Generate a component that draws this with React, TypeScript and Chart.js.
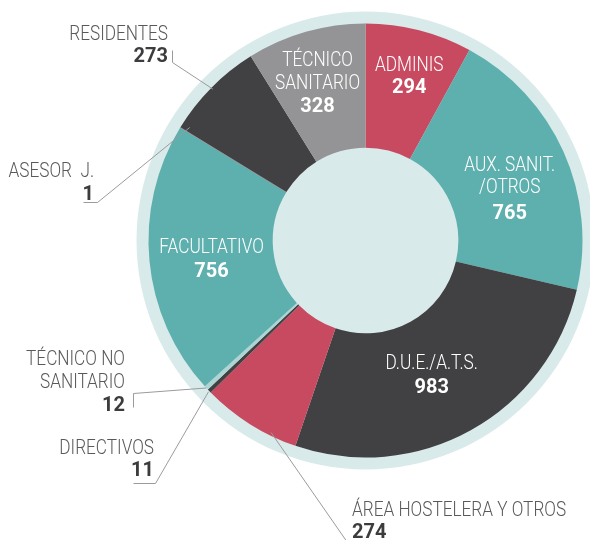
import { useEffect, useRef } from "react";
import { Chart, registerables } from "chart.js";

Chart.register(...registerables);

// ---- data ----
const categories = [
  "ADMINIS",
  "AUX. SANIT./OTROS",
  "D.U.E./A.T.S.",
  "ÁREA HOSTELERA Y OTROS",
  "DIRECTIVOS",
  "TÉCNICO NO SANITARIO",
  "FACULTATIVO",
  "ASESOR J.",
  "RESIDENTES",
  "TÉCNICO SANITARIO",
];
const values = [294, 765, 983, 274, 11, 12, 756, 1, 273, 328];
const labelLines = [
  ["ADMINIS"],
  ["AUX. SANIT.", "/OTROS"],
  ["D.U.E./A.T.S."],
  ["ÁREA HOSTELERA Y OTROS"],
  ["DIRECTIVOS"],
  ["TÉCNICO NO", "SANITARIO"],
  ["FACULTATIVO"],
  ["ASESOR  J."],
  ["RESIDENTES"],
  ["TÉCNICO", "SANITARIO"],
];

// ---- styles ----
const RED = "#c84a60";
const TEAL = "#5eb0af";
const DARK = "#414143";
const GRAY = "#949395";
const LIGHT = "#aed4d4";
const RING = "#d9eaea";
const sliceColors = [RED, TEAL, DARK, RED, DARK, LIGHT, TEAL, RED, DARK, GRAY];

const NAME_FONT = "300 20px Roboto";
const NUM_FONT = "700 20px Roboto";
const SX = 0.86; // horizontal condensing of name text
const CAP = 7.1; // half cap height offset

// inside label layout: f = radial fraction, da = angle nudge (deg), offsets of lines
const inside: Record<number, { f: number; da: number; dy: number[] }> = {
  0: { f: 0.63, da: 0.5, dy: [-11, 11] },
  1: { f: 0.49, da: 4, dy: [-24, -2, 24] },
  2: { f: 0.45, da: 2.6, dy: [-12, 12] },
  6: { f: 0.5, da: -1, dy: [-12, 12] },
  9: { f: 0.59, da: -0.8, dy: [-23, 0, 23] },
};

// outside label layout
type Out = {
  align: "left" | "right";
  tx: number;
  ty: number[];
  path: [number, number][];
  da: number;
  dr: number;
};
const outside: Record<number, Out> = {
  8: { align: "right", tx: 168, ty: [33, 55], path: [[172, 50], [172, 62]], da: 0, dr: -2 },
  7: { align: "right", tx: 94, ty: [170, 193], path: [[83, 202], [97, 202]], da: 1.3, dr: -8 },
  5: { align: "right", tx: 125, ty: [358, 381, 404], path: [[133, 407], [133, 393]], da: 0, dr: 0 },
  4: { align: "right", tx: 154, ty: [447, 469], path: [[133, 483], [155, 483]], da: 0, dr: 1 },
  3: { align: "left", tx: 352, ty: [509, 531], path: [[347, 542]], da: -6, dr: -3 },
};

function drawText(
  ctx: CanvasRenderingContext2D,
  text: string,
  x: number,
  y: number,
  align: CanvasTextAlign,
  font: string,
  color: string,
  sx: number
) {
  ctx.save();
  ctx.translate(x, y + CAP);
  ctx.scale(sx, 1);
  ctx.font = font;
  ctx.fillStyle = color;
  ctx.textAlign = align;
  ctx.textBaseline = "alphabetic";
  ctx.fillText(text, 0, 0);
  ctx.restore();
}

const ringPlugin = {
  id: "ringBg",
  beforeDatasetsDraw(chart: any) {
    const arc = chart.getDatasetMeta(0).data[0];
    if (!arc) return;
    const { x, y, outerRadius } = arc.getProps(["x", "y", "outerRadius"], true);
    const ctx = chart.ctx as CanvasRenderingContext2D;
    ctx.save();
    ctx.beginPath();
    ctx.arc(x, y, outerRadius + 12, 0, Math.PI * 2);
    ctx.fillStyle = RING;
    ctx.fill();
    ctx.restore();
  },
};

const labelPlugin = {
  id: "sliceLabels",
  afterDatasetsDraw(chart: any) {
    const ctx = chart.ctx as CanvasRenderingContext2D;
    const arcs = chart.getDatasetMeta(0).data;
    arcs.forEach((arc: any, i: number) => {
      const p = arc.getProps(
        ["x", "y", "startAngle", "endAngle", "innerRadius", "outerRadius"],
        true
      );
      const mid = (p.startAngle + p.endAngle) / 2;
      const num = String(values[i]);
      const ins = inside[i];
      if (ins) {
        const a = mid + (ins.da * Math.PI) / 180;
        const r = p.innerRadius + ins.f * (p.outerRadius - p.innerRadius);
        const cx = p.x + r * Math.cos(a);
        const cy = p.y + r * Math.sin(a);
        const lines = labelLines[i];
        lines.forEach((t, k) =>
          drawText(ctx, t, cx, cy + ins.dy[k], "center", NAME_FONT, "#ffffff", SX)
        );
        drawText(ctx, num, cx, cy + ins.dy[lines.length], "center", NUM_FONT, "#ffffff", 1);
        return;
      }
      const o = outside[i];
      if (o) {
        const a = mid + (o.da * Math.PI) / 180;
        const r = p.outerRadius + o.dr;
        const ax = p.x + r * Math.cos(a);
        const ay = p.y + r * Math.sin(a);
        ctx.save();
        ctx.strokeStyle = "#9b9b9b";
        ctx.lineWidth = 1;
        ctx.beginPath();
        o.path.forEach(([px, py], k) => {
          if (k === 0) ctx.moveTo(px + 0.5, py + 0.5);
          else ctx.lineTo(px + 0.5, py + 0.5);
        });
        ctx.lineTo(ax, ay);
        ctx.stroke();
        ctx.restore();
        const lines = labelLines[i];
        lines.forEach((t, k) =>
          drawText(ctx, t, o.tx, o.ty[k], o.align, NAME_FONT, "#58595b", SX)
        );
        drawText(ctx, num, o.tx, o.ty[lines.length], o.align, NUM_FONT, "#3c3c3e", 1);
      }
    });
  },
};

export default function App() {
  const ref = useRef<HTMLCanvasElement | null>(null);
  useEffect(() => {
    document.body.style.margin = "0";
    const canvas = ref.current;
    if (!canvas) return;
    const chart = new Chart(canvas, {
      type: "doughnut",
      data: {
        labels: categories,
        datasets: [
          {
            data: values,
            backgroundColor: sliceColors,
            borderWidth: 0,
          },
        ],
      },
      options: {
        animation: false,
        responsive: true,
        maintainAspectRatio: false,
        radius: 217,
        cutout: 96,
        layout: { padding: { left: 141, right: 0, top: 0, bottom: 59 } },
        plugins: {
          legend: { display: false },
          tooltip: { enabled: false },
        },
        events: [],
      } as any,
      plugins: [ringPlugin, labelPlugin],
    });
    return () => chart.destroy();
  }, []);
  return (
    <div style={{ width: 590, height: 540, position: "relative", background: "#ffffff" }}>
      <canvas ref={ref} />
    </div>
  );
}
